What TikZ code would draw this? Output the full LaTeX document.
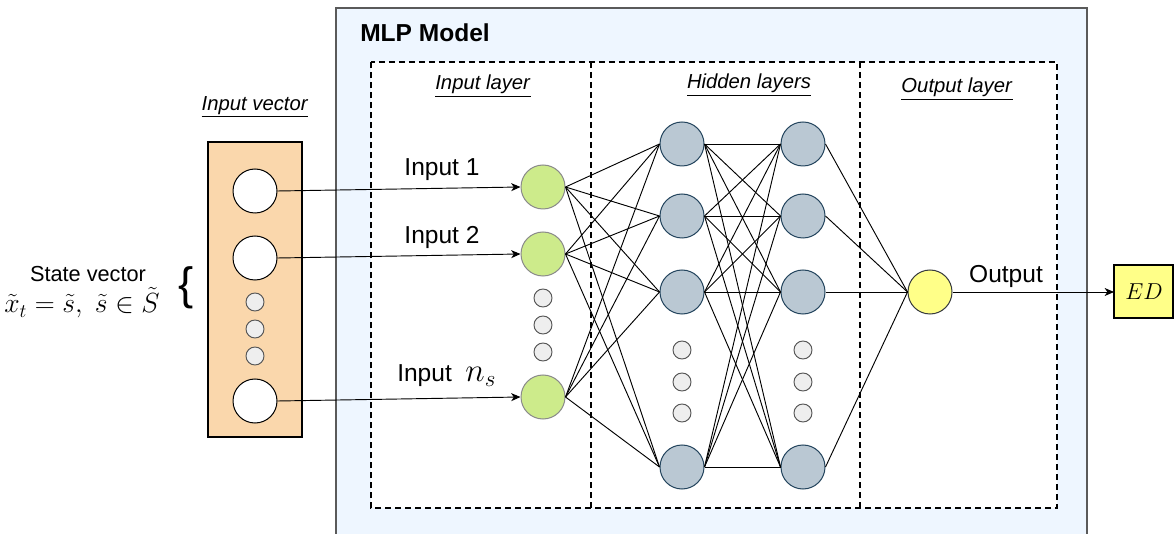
\documentclass[tikz,border=0pt]{standalone}
\usepackage{fontspec}
\setmainfont{Liberation Sans}
\usetikzlibrary{arrows.meta}
\definecolor{mlpfill}{HTML}{EEF6FF}
\definecolor{mlpborder}{HTML}{5A5A5A}
\definecolor{vecfill}{HTML}{FAD7AC}
\definecolor{greenfill}{HTML}{CDEB8B}
\definecolor{greenborder}{HTML}{8A8A8A}
\definecolor{hidfill}{HTML}{BAC8D3}
\definecolor{hidborder}{HTML}{23445D}
\definecolor{dotfill}{HTML}{EEEEEE}
\definecolor{dotborder}{HTML}{555555}
\definecolor{yelfill}{HTML}{FFFF88}
\definecolor{yelborder}{HTML}{36393D}
\tikzset{
  bignode/.style={circle, minimum size=33pt, inner sep=0pt, line width=0.75pt},
  inwhite/.style={bignode, fill=white, draw=black},
  gnode/.style={bignode, fill=greenfill, draw=greenborder},
  hnode/.style={bignode, fill=hidfill, draw=hidborder},
  onode/.style={bignode, fill=yelfill, draw=yelborder},
  dotnode/.style={circle, minimum size=13.5pt, inner sep=0pt, line width=0.7pt, fill=dotfill, draw=dotborder},
  conn/.style={line width=0.7pt},
  arr/.style={conn, -{Stealth[length=7pt,width=6pt,inset=2pt]}},
  dashline/.style={line width=1.1pt, dash pattern=on 4.5pt off 3pt},
  biglabel/.style={font=\fontsize{18.4}{22}\selectfont, inner sep=0pt},
  laylabel/.style={font=\fontsize{15.2}{18}\selectfont, inner sep=0pt}
}
\begin{document}
\begin{tikzpicture}[x=0.75pt,y=-0.75pt]
\useasboundingbox (0,0) rectangle (1174,534);

% MLP model box
\fill[mlpfill] (336,8) rectangle (1087,534);
\draw[mlpborder, line width=0.9pt] (336,534) -- (336,8) -- (1087,8) -- (1087,534);
\node[font=\fontsize{18.4}{22}\selectfont\bfseries, inner sep=0pt] (title) at (425,33) {MLP Model};

% dashed layer box
\fill[white] (371,62) rectangle (1057,508);
\draw[dashline] (371,62) rectangle (1057,508);
\draw[dashline] (591,62) -- (591,508);
\draw[dashline] (860,62) -- (860,508);

\node[laylabel] (lin) at (483,86) {\underline{\textit{Input layer}}};
\node[laylabel] (lhid) at (749,85) {\underline{\textit{Hidden layers}}};
\node[laylabel] (lout) at (957,89) {\underline{\textit{Output layer}}};

% input vector
\node[laylabel] (lvec) at (255,107) {\underline{\textit{Input vector}}};
\draw[fill=vecfill, line width=1.1pt] (208,142) rectangle (302,437);
\node[inwhite] (v1) at (255,191) {};
\node[inwhite] (v2) at (255,258) {};
\node[inwhite] (vn) at (255,401) {};
\node[dotnode] (vd1) at (255,302) {};
\node[dotnode] (vd2) at (255,329) {};
\node[dotnode] (vd3) at (255,356) {};

\node[font=\fontsize{16.3}{20}\selectfont, inner sep=0pt] (sv) at (88,274) {State vector};
\node[font=\fontsize{20.3}{24}\selectfont, inner sep=0pt] (svm) at (82,303) {$\tilde{x}_t=\tilde{s},\ \tilde{s}\in\tilde{S}$};
\node[font=\fontsize{34}{36}\selectfont, inner sep=0pt] (brace) at (186,288) {\{};

% input layer
\node[gnode] (g1) at (543,187) {};
\node[gnode] (g2) at (543,254) {};
\node[gnode] (gn) at (543,397) {};
\node[dotnode] (gd1) at (543,298) {};
\node[dotnode] (gd2) at (543,325) {};
\node[dotnode] (gd3) at (543,352) {};

% hidden layers
\foreach \i/\y in {1/144,2/216,3/292,4/467}{
  \node[hnode] (a\i) at (682,\y) {};
  \node[hnode] (b\i) at (803,\y) {};
}
\foreach \i/\y in {1/350,2/382,3/413}{
  \node[dotnode] (ad\i) at (682,\y) {};
  \node[dotnode] (bd\i) at (803,\y) {};
}

% output
\node[onode] (out) at (930,292) {};
\draw[fill=yelfill, line width=1.1pt] (1114,265) rectangle (1173,318);
\node[font=\fontsize{19}{22}\selectfont, inner sep=0pt] (ed) at (1144,291.5) {$ED$};
\coordinate (edw) at (1114,292);

% connections
\foreach \g in {g1,g2,gn}{
  \foreach \a in {a1,a2,a3,a4}{
    \draw[conn] (\g.east) -- (\a.west);
  }
}
\foreach \a in {a1,a2,a3,a4}{
  \foreach \b in {b1,b2,b3,b4}{
    \draw[conn] (\a.east) -- (\b.west);
  }
}
\foreach \b in {b1,b2,b3,b4}{
  \draw[conn] (\b.east) -- (out.west);
}

\draw[arr] (v1.east) -- (g1.west);
\draw[arr] (v2.east) -- (g2.west);
\draw[arr] (vn.east) -- (gn.west);
\draw[arr] (out.east) -- (edw);

\node[biglabel] (t1) at (442,170) {Input 1};
\node[biglabel] (t2) at (442,237) {Input 2};
\node[biglabel, anchor=base west] (tn) at (397,382) {Input\ \ \fontsize{25}{28}\selectfont$n_s$};
\node[biglabel] (to) at (1006,276) {Output};
\end{tikzpicture}
\end{document}
